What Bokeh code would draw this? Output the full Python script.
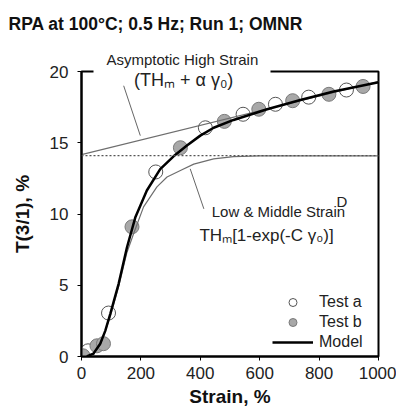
from bokeh.plotting import figure
from bokeh.models import (Range1d, Label, Legend, LegendItem, Span, Title,
                          FixedTicker, ColumnDataSource)
from bokeh.embed import file_html
from bokeh.resources import INLINE

# ---------------- data ----------------
title_text = "RPA at 100°C; 0.5 Hz; Run 1; OMNR"
x_label = "Strain, %"
y_label = "T(3/1), %"
x_ticks = [0, 200, 400, 600, 800, 1000]
y_ticks = [0, 5, 10, 15, 20]

test_a_strain = [22, 91, 250, 417, 544, 653, 765, 892]
test_a_t31 = [0.4, 3.05, 12.95, 16.05, 17.0, 17.7, 18.2, 18.7]

test_b_strain = [5, 52, 74, 170, 333, 481, 597, 711, 833, 948]
test_b_t31 = [0.05, 0.75, 0.9, 9.1, 14.65, 16.5, 17.35, 17.95, 18.4, 18.95]

model_strain = [18, 40, 63, 80, 97, 125, 153, 181, 220, 265, 310, 355, 400,
                445, 512, 625, 737, 849, 1000]
model_t31 = [0.0, 0.2, 0.9, 1.8, 3.0, 5.1, 7.65, 9.75, 11.65, 13.15, 14.05,
             14.8, 15.5, 16.05, 16.6, 17.35, 18.0, 18.6, 19.25]

low_strain = [18, 40, 63, 97, 125, 153, 175, 209, 254, 288, 333, 378, 445,
              512, 600, 1000]
low_t31 = [0.0, 0.15, 0.8, 2.8, 4.9, 7.3, 8.6, 10.5, 11.9, 12.6, 13.05, 13.5,
           13.87, 14.03, 14.08, 14.08]

asym_strain = [0, 1000]
asym_t31 = [14.17, 19.3]

thm_level = 14.1

asym_pointer_strain = [142, 198]
asym_pointer_t31 = [19.0, 15.5]
low_pointer_strain = [366, 412]
low_pointer_t31 = [13.17, 10.36]

FONT = "Liberation Sans"

p = figure(width=396, height=416, output_backend="svg", toolbar_location=None,
           x_range=Range1d(0, 1000), y_range=Range1d(0, 20),
           min_border_left=81, min_border_right=18, min_border_top=71,
           min_border_bottom=60, x_axis_label=x_label, y_axis_label=y_label)
p.grid.visible = False
p.background_fill_color = "white"
p.border_fill_color = "white"
# frame box; the dash leaves the gap in the top edge behind the annotation
p.outline_line_color = "black"
p.outline_line_width = 2
p.outline_line_alpha = 1
p.outline_line_dash = "12 177 3000"

p.xaxis.ticker = FixedTicker(ticks=x_ticks)
p.yaxis.ticker = FixedTicker(ticks=y_ticks)
for ax in (p.xaxis[0], p.yaxis[0]):
    ax.axis_line_width = 2
    ax.axis_line_color = "black"
    ax.major_tick_line_color = "black"
    ax.major_tick_line_width = 1
    ax.major_tick_in = 0
    ax.major_tick_out = 4
    ax.minor_tick_line_color = None
    ax.major_label_text_font = FONT
    ax.major_label_text_font_size = "17px"
    ax.major_label_text_color = "#222222"
    ax.axis_label_text_font = FONT
    ax.axis_label_text_font_style = "bold"
    ax.axis_label_text_color = "#111111"
    ax.axis_label_text_font_size = "19px"
p.xaxis.major_label_standoff = 6
p.yaxis.major_label_standoff = 9
p.xaxis.axis_label_standoff = 4
p.yaxis.axis_label_standoff = 14

# titles in the top panel
p.title.text = title_text
p.title.align = "left"
p.title.offset = -73
p.title.text_font = FONT
p.title.text_font_size = "17.5px"
p.title.text_font_style = "bold"
p.title.text_color = "#111111"
p.title.standoff = 22
asym_title = Title(text="Asymptotic High Strain", align="left", offset=25,
                   text_font=FONT, text_font_size="15px",
                   text_font_style="normal", text_color="#222222", standoff=8)
p.add_layout(asym_title, "above")

src_a = ColumnDataSource(dict(x=test_a_strain, y=test_a_t31))
src_b = ColumnDataSource(dict(x=test_b_strain, y=test_b_t31))
ra = p.scatter("x", "y", source=src_a, size=14, fill_color="white",
               line_color="#555555", line_width=1)
rb = p.scatter("x", "y", source=src_b, size=14, fill_color="#a8a8a8",
               line_color="#7a7a7a", line_width=1)

p.add_layout(Span(location=thm_level, dimension="width", line_color="#555555",
                  line_width=1.2, line_dash="2 2"))
p.line(asym_strain, asym_t31, line_color="#6e6e6e", line_width=1.2)
p.line(low_strain, low_t31, line_color="#6e6e6e", line_width=1.2)
p.line(asym_pointer_strain, asym_pointer_t31, line_color="#666666", line_width=1)
p.line(low_pointer_strain, low_pointer_t31, line_color="#666666", line_width=1)
rm = p.line(model_strain, model_t31, line_color="black", line_width=2.5)

legend = Legend(items=[LegendItem(label="Test a", renderers=[ra]),
                       LegendItem(label="Test b", renderers=[rb]),
                       LegendItem(label="Model", renderers=[rm])],
                location=(191, 4), orientation="vertical",
                border_line_color=None, background_fill_alpha=0,
                glyph_width=41, glyph_height=20, label_height=20,
                label_standoff=6, spacing=0, padding=0, margin=0,
                label_text_font=FONT, label_text_font_size="16px",
                label_text_color="#222222")
p.add_layout(legend)

p.add_layout(Label(x=344, y=19.37, text="(THₘ + α γ₀)",
                   text_align="center", text_baseline="middle",
                   text_font=FONT, text_font_size="18px", text_color="#222222"))
p.add_layout(Label(x=663, y=10.2, text="Low & Middle Strain",
                   text_align="center", text_baseline="middle",
                   text_font=FONT, text_font_size="15px", text_color="#222222"))
p.add_layout(Label(x=849, y=8.49, text="THₘ[1-exp(-C γ₀)]",
                   text_align="right", text_baseline="middle",
                   text_font=FONT, text_font_size="17px", text_color="#222222"))
p.add_layout(Label(x=859, y=10.88, text="D",
                   text_align="left", text_baseline="middle",
                   text_font=FONT, text_font_size="15px", text_color="#222222"))

open("out.html", "w").write(file_html(p, INLINE))
